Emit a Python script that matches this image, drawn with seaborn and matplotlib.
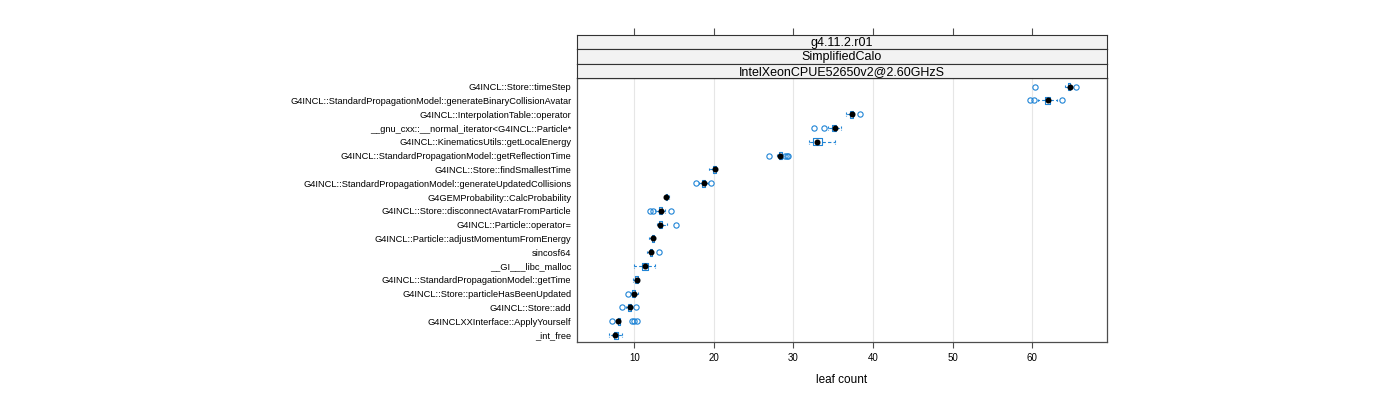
import pandas as pd
import numpy as np
import matplotlib
matplotlib.use('Agg')
import matplotlib.pyplot as plt
import seaborn as sns

# function names, top to bottom
functions = [
    'G4INCL::Store::timeStep',
    'G4INCL::StandardPropagationModel::generateBinaryCollisionAvatar',
    'G4INCL::InterpolationTable::operator',
    '__gnu_cxx::__normal_iterator<G4INCL::Particle*',
    'G4INCL::KinematicsUtils::getLocalEnergy',
    'G4INCL::StandardPropagationModel::getReflectionTime',
    'G4INCL::Store::findSmallestTime',
    'G4INCL::StandardPropagationModel::generateUpdatedCollisions',
    'G4GEMProbability::CalcProbability',
    'G4INCL::Store::disconnectAvatarFromParticle',
    'G4INCL::Particle::operator=',
    'G4INCL::Particle::adjustMomentumFromEnergy',
    'sincosf64',
    '__GI___libc_malloc',
    'G4INCL::StandardPropagationModel::getTime',
    'G4INCL::Store::particleHasBeenUpdated',
    'G4INCL::Store::add',
    'G4INCLXXInterface::ApplyYourself',
    '_int_free',
]

# leaf counts per run
timeStep = [60.3, 64.1, 64.5, 64.6, 64.7, 64.7, 64.8, 64.9, 65.5]
binaryAvatar = [59.7, 60.2, 60.7, 61.6, 61.7, 61.8, 62.0, 62.0, 62.1, 62.2, 62.3, 62.4, 63.1, 63.8]
interpTable = [36.6, 37.0, 37.1, 37.3, 37.3, 37.5, 37.6, 38.4]
gnuIterator = [32.6, 33.8, 34.3, 34.9, 35.0, 35.1, 35.2, 35.3, 35.3, 35.4, 35.5, 35.5, 36.0]
localEnergy = [31.9, 32.4, 32.5, 32.9, 33.0, 33.2, 33.6, 33.8, 35.2]
reflectionTime = [26.9, 27.9, 28.2, 28.2, 28.3, 28.3, 28.3, 28.4, 28.4, 28.5, 28.5, 29.0, 29.2, 29.3]
smallestTime = [19.4, 19.6, 19.8, 20.1, 20.2, 20.2, 20.2, 20.3, 20.3, 20.4]
updatedCollisions = [17.7, 18.1, 18.5, 18.6, 18.7, 18.7, 18.8, 18.9, 19.2, 19.7]
calcProbability = [13.8, 13.9, 14.0, 14.0, 14.1, 14.2, 14.3]
disconnectAvatar = [12.0, 12.3, 12.6, 13.0, 13.2, 13.3, 13.3, 13.4, 13.4, 13.5, 13.5, 13.5, 13.8, 14.6]
particleAssign = [12.9, 13.0, 13.1, 13.1, 13.2, 13.2, 13.3, 13.3, 13.4, 13.8, 14.1, 15.2]
adjustMomentum = [11.9, 12.1, 12.2, 12.3, 12.3, 12.4, 12.5, 12.6]
sincosf = [11.6, 11.8, 12.0, 12.1, 12.1, 12.2, 12.3, 13.1]
libcMalloc = [9.9, 10.7, 11.2, 11.4, 11.5, 11.9, 12.6]
getTime = [9.8, 10.0, 10.2, 10.3, 10.4, 10.4, 10.5, 10.6]
hasBeenUpdated = [9.2, 9.6, 9.9, 10.0, 10.0, 10.1, 10.5]
storeAdd = [8.5, 9.0, 9.2, 9.4, 9.4, 9.5, 9.6, 10.2]
applyYourself = [7.2, 7.8, 7.9, 7.9, 8.0, 8.0, 8.0, 8.1, 8.1, 8.2, 9.7, 10.0, 10.3]
intFree = [6.8, 7.2, 7.4, 7.5, 7.6, 7.6, 7.7, 8.0, 8.3, 8.5]

runs = [timeStep, binaryAvatar, interpTable, gnuIterator, localEnergy,
        reflectionTime, smallestTime, updatedCollisions, calcProbability,
        disconnectAvatar, particleAssign, adjustMomentum, sincosf, libcMalloc,
        getTime, hasBeenUpdated, storeAdd, applyYourself, intFree]

strips = ['g4.11.2.r01', 'SimplifiedCalo', 'IntelXeonCPUE52650v2@2.60GHzS']
xticks = [10, 20, 30, 40, 50, 60]

df = pd.DataFrame({
    'function': np.repeat(functions, [len(r) for r in runs]),
    'leaf': np.concatenate(runs),
})

sns.set_theme(style='white')
plt.rcParams['font.family'] = ['Liberation Sans', 'DejaVu Sans']
plt.rcParams['text.color'] = 'black'
plt.rcParams['axes.labelcolor'] = 'black'
plt.rcParams['xtick.color'] = 'black'
plt.rcParams['ytick.color'] = 'black'

blue = '#1f84d6'
frame = '#4d4d4d'

fig = plt.figure(figsize=(14, 4), dpi=100)
ax = fig.add_axes([577 / 1400, 1 - 342 / 400, 530 / 1400, (342 - 78.3) / 400])

for v in xticks:
    ax.axvline(v, color='#e6e6e6', lw=0.8, zorder=0)

sns.boxplot(data=df, x='leaf', y='function', order=functions, orient='h',
            ax=ax, color=blue, fill=False, width=0.5, linewidth=0.8,
            whis=1.5,
            whiskerprops={'linestyle': (0, (3, 2))},
            capprops={'linestyle': (0, (2, 1))},
            medianprops={'visible': False},
            flierprops={'marker': 'o', 'markerfacecolor': 'none',
                        'markeredgecolor': blue, 'markersize': 3.8,
                        'markeredgewidth': 0.8})

sns.pointplot(data=df, x='leaf', y='function', order=functions, orient='h',
              ax=ax, estimator='median', errorbar=None, color='black',
              linestyle='none', markers='o', markersize=2.3, zorder=5)

ax.set_xlim(2.8, 69.4)
ax.set_ylim(18.5, -0.6)
ax.set_xticks(xticks)
ax.set_xticklabels([str(t) for t in xticks])
ax.tick_params(axis='x', bottom=True, top=False, length=4, width=0.8,
               color=frame, labelsize=7, pad=4)
ax.tick_params(axis='y', left=False, length=0, labelsize=6.7, pad=4)
ax.set_xlabel('leaf count', fontsize=8.5, labelpad=8)
ax.set_ylabel('')
for s in ax.spines.values():
    s.set_color(frame)
    s.set_linewidth(0.9)

# stacked strips above the panel
strip_h = 14.5 / 400
for i, label in enumerate(strips):
    bottom = 1 - 78.3 / 400 + (len(strips) - 1 - i) * strip_h
    sax = fig.add_axes([577 / 1400, bottom, 530 / 1400, strip_h])
    sax.set_facecolor('#f2f2f2')
    sax.set_xlim(ax.get_xlim())
    sax.set_yticks([])
    sax.text(0.5, 0.44, label, transform=sax.transAxes, ha='center',
             va='center', fontsize=9)
    for s in sax.spines.values():
        s.set_color('#333333')
        s.set_linewidth(0.8)
    if i == 0:
        sax.set_xticks(xticks)
        sax.tick_params(axis='x', bottom=False, top=True, labelbottom=False,
                        length=5, width=0.8, color=frame)
    else:
        sax.set_xticks([])

fig.savefig('out.png', dpi=100)
plt.close(fig)
